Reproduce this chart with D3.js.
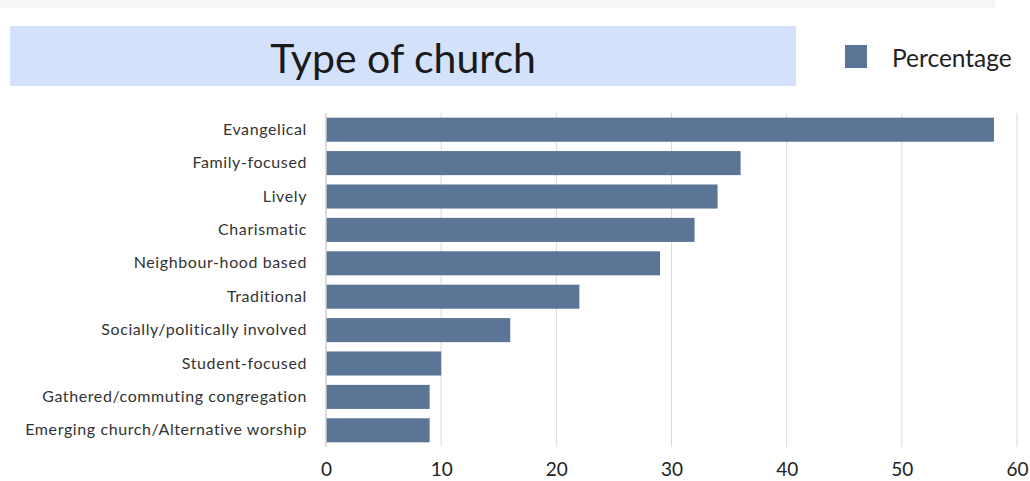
<!DOCTYPE html>
<html>
<head>
<meta charset="utf-8">
<script src="https://cdn.jsdelivr.net/npm/d3@7"></script>
<style>
  body { margin: 0; background: #fff; }
  svg { display: block; }
  text { font-family: Lato, "Open Sans", sans-serif; }
</style>
</head>
<body>
<svg id="chart" width="1030" height="481"></svg>
<script>
const categories = [
  "Evangelical",
  "Family-focused",
  "Lively",
  "Charismatic",
  "Neighbour-hood based",
  "Traditional",
  "Socially/politically involved",
  "Student-focused",
  "Gathered/commuting congregation",
  "Emerging church/Alternative worship"
];
const percentages = [58, 36, 34, 32, 29, 22, 16, 10, 9, 9];
const xTicks = [0, 10, 20, 30, 40, 50, 60];
const titleText = "Type of church";
const seriesName = "Percentage";

const svg = d3.select("#chart");
const barColor = "#5a7595";

// faint top band
svg.append("rect").attr("x", 0).attr("y", 0).attr("width", 995).attr("height", 8).attr("fill", "#f6f6f6");

// title box
svg.append("rect").attr("x", 10).attr("y", 26).attr("width", 786).attr("height", 60).attr("fill", "#d3e2fa");
svg.append("text").attr("x", 403).attr("y", 57).attr("text-anchor", "middle")
  .attr("dominant-baseline", "central").attr("font-size", 41).attr("fill", "#1a1a1a")
  .style("font-family", "Lato, sans-serif").text(titleText);

// legend
svg.append("rect").attr("x", 845).attr("y", 45).attr("width", 22).attr("height", 23).attr("fill", barColor);
svg.append("text").attr("x", 892).attr("y", 57).attr("dominant-baseline", "central")
  .attr("font-size", 24.5).attr("fill", "#222").text(seriesName);

const x = d3.scaleLinear().domain([0, 60]).range([326, 1017]);
const y = d3.scaleBand().domain(categories).range([113, 447]).paddingInner(0.28).paddingOuter(0.14);

// gridlines
svg.append("g").selectAll("line").data(xTicks.slice(1)).join("line")
  .attr("x1", d => x(d)).attr("x2", d => x(d)).attr("y1", 113).attr("y2", 447)
  .attr("stroke", "#d9d9d9").attr("stroke-width", 1);

// bars
svg.append("g").selectAll("rect").data(categories).join("rect")
  .attr("x", x(0)).attr("y", d => y(d))
  .attr("width", (d, i) => x(percentages[i]) - x(0))
  .attr("height", y.bandwidth()).attr("fill", barColor);

// y axis line
svg.append("line").attr("x1", x(0)).attr("x2", x(0)).attr("y1", 113).attr("y2", 447)
  .attr("stroke", "#cfcfcf").attr("stroke-width", 1.5);

// y labels
const yAxis = d3.axisLeft(y).tickSize(0).tickPadding(19);
const yg = svg.append("g").attr("transform", `translate(${x(0)},0)`).call(yAxis);
yg.select(".domain").remove();
yg.selectAll("text").attr("font-size", 16).attr("fill", "#333")
  .style("letter-spacing", "0.6px").style("font-family", "Lato, sans-serif");

// x axis labels
const xAxis = d3.axisBottom(x).tickValues(xTicks).tickSize(0).tickPadding(0).tickFormat(d3.format("d"));
const xg = svg.append("g").attr("transform", `translate(0,462)`).call(xAxis);
xg.select(".domain").remove();
xg.selectAll("text").attr("font-size", 19).attr("fill", "#222").style("font-family", "Lato, sans-serif");
</script>
</body>
</html>
